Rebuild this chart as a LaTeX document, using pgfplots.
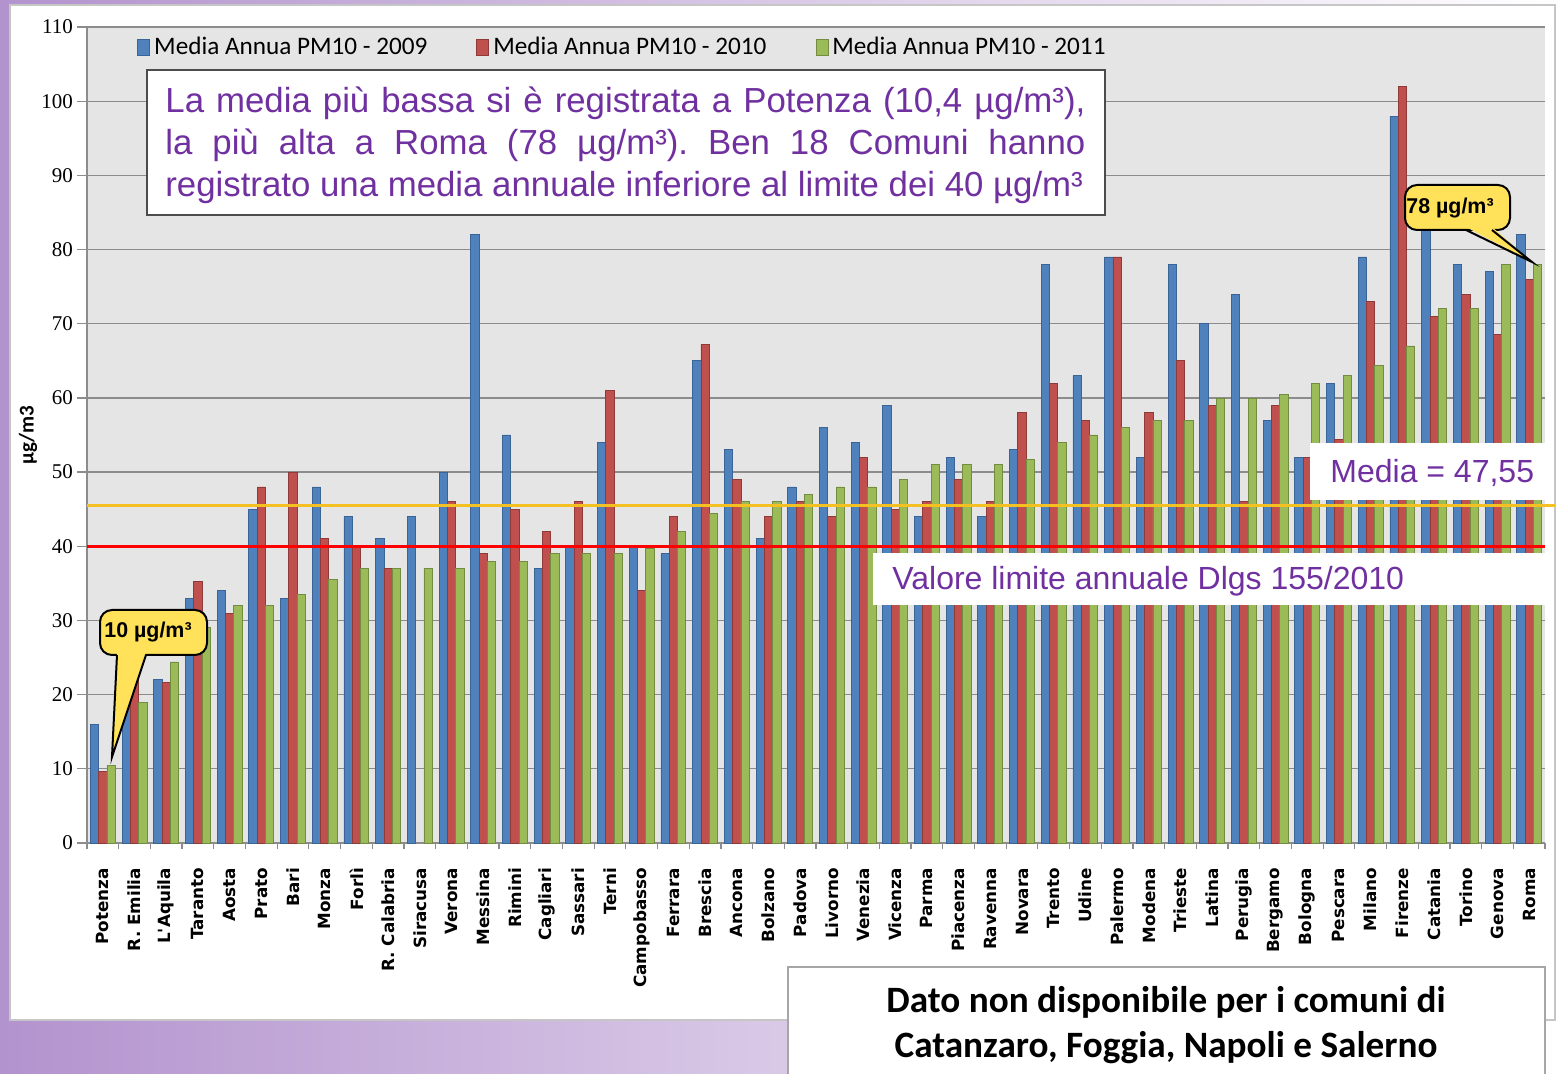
\documentclass[border=0pt]{standalone}
\usepackage{pgfplots}
\pgfplotsset{compat=1.18}
\usepackage{fontspec}
\setmainfont{Liberation Sans}
\newfontfamily\carlito{Carlito}
\newfontfamily\dvs{DejaVu Sans}
\newfontfamily\lserif{Liberation Serif}
\definecolor{cblue}{HTML}{4F81BD}
\definecolor{cblueD}{HTML}{3A6495}
\definecolor{cred}{HTML}{C0504D}
\definecolor{credD}{HTML}{8E3A38}
\definecolor{cgreen}{HTML}{9BBB59}
\definecolor{cgreenD}{HTML}{748C42}
\definecolor{purp}{HTML}{7030A0}
\definecolor{bgpurp}{HTML}{B393CE}
\definecolor{callout}{HTML}{FFE15A}
\definecolor{meanline}{HTML}{F5C022}
\pgfplotsset{mybar/.style={ybar, bar width=4.15pt, line width=0.4pt,
  legend image code/.code={\draw[##1] (0pt,-4pt) rectangle (6pt,4pt);}}}
\frenchspacing
\begin{document}
\begin{tikzpicture}
\path[use as bounding box] (0pt,0pt) rectangle (779.5pt,-537pt);
\begin{scope}[x=0.5pt,y=-0.5pt]
\shade[left color=bgpurp, right color=white] (0,0) rectangle (1559,1074);
\draw[gray!45, fill=white, line width=0.8pt] (10,5) rectangle (1555,1020);
\end{scope}
\begin{axis}[
  at={(43.5pt,-421.5pt)}, anchor=south west,
  scale only axis, width=729pt, height=408pt,
  xmin=-0.5, xmax=45.5, ymin=0, ymax=110,
  clip=false,
  axis background/.style={fill=gray!20},
  axis x line*=bottom, axis y line*=left,
  axis line style={-, draw=gray!90, line width=0.7pt},
  ymajorgrids, major grid style={draw=gray!90, line width=0.6pt},
  ytick={0,10,...,110},
  xtick={0,...,45},
  xticklabels={Potenza,R. Emilia,L'Aquila,Taranto,Aosta,Prato,Bari,Monza,Forlì,R. Calabria,Siracusa,Verona,Messina,Rimini,Cagliari,Sassari,Terni,Campobasso,Ferrara,Brescia,Ancona,Bolzano,Padova,Livorno,Venezia,Vicenza,Parma,Piacenza,Ravenna,Novara,Trento,Udine,Palermo,Modena,Trieste,Latina,Perugia,Bergamo,Bologna,Pescara,Milano,Firenze,Catania,Torino,Genova,Roma},
  minor xtick={-0.5,0.5,...,45.5},
  major x tick style={draw=none},
  minor x tick style={draw=gray!90, line width=0.6pt},
  major y tick style={draw=gray!90, line width=0.6pt},
  tick align=outside, major tick length=5pt, minor tick length=3pt,
  xticklabel style={rotate=90, anchor=east, font=\dvs\bfseries\fontsize{8.4}{10}\selectfont},
  xticklabel shift=4pt,
  yticklabel style={font=\lserif\fontsize{10.5}{12}\selectfont, xshift=1.5pt},
  /pgf/number format/assume math mode=true,
  ylabel={µg/m3},
  ylabel style={at={(axis description cs:-0.0405,0.5)}, anchor=center, font=\carlito\bfseries\fontsize{10.5}{12}\selectfont},
  legend columns=3,
  legend style={draw=none, fill=none, inner sep=0pt, at={(axis description cs:0.0343,0.9755)}, anchor=west,
    font=\carlito\fontsize{12.6}{14}\selectfont,
    /tikz/every even column/.append style={column sep=22.5pt}},
]
\addplot[mybar, bar shift=-4.15pt, fill=cblue, draw=cblueD] coordinates {
(0,16) (1,25) (2,22) (3,33) (4,34) (5,45) (6,33) (7,48) (8,44) (9,41)
(10,44) (11,50) (12,82) (13,55) (14,37) (15,40) (16,54) (17,40) (18,39) (19,65)
(20,53) (21,41) (22,48) (23,56) (24,54) (25,59) (26,44) (27,52) (28,44) (29,53)
(30,78) (31,63) (32,79) (33,52) (34,78) (35,70) (36,74) (37,57) (38,52) (39,62)
(40,79) (41,98) (42,85) (43,78) (44,77) (45,82)};
\addlegendentry{Media Annua PM10 - 2009}
\addplot[mybar, bar shift=0pt, fill=cred, draw=credD] coordinates {
(0,9.6) (1,22) (2,21.6) (3,35.3) (4,31) (5,48) (6,50) (7,41) (8,40) (9,37)
(11,46) (12,39) (13,45) (14,42) (15,46) (16,61) (17,34) (18,44) (19,67.2)
(20,49) (21,44) (22,46) (23,44) (24,52) (25,45) (26,46) (27,49) (28,46) (29,58)
(30,62) (31,57) (32,79) (33,58) (34,65) (35,59) (36,46) (37,59) (38,52) (39,54.4)
(40,73) (41,102) (42,71) (43,74) (44,68.5) (45,76)};
\addlegendentry{Media Annua PM10 - 2010}
\addplot[mybar, bar shift=4.15pt, fill=cgreen, draw=cgreenD] coordinates {
(0,10.4) (1,19) (2,24.4) (3,29) (4,32) (5,32) (6,33.5) (7,35.5) (8,37) (9,37)
(10,37) (11,37) (12,38) (13,38) (14,39) (15,39) (16,39) (17,39.7) (18,42) (19,44.4)
(20,46) (21,46) (22,47) (23,48) (24,48) (25,49) (26,51) (27,51) (28,51) (29,51.7)
(30,54) (31,55) (32,56) (33,57) (34,57) (35,60) (36,60) (37,60.5) (38,62) (39,63)
(40,64.4) (41,67) (42,72) (43,72) (44,78) (45,78)};
\addlegendentry{Media Annua PM10 - 2011}
\addplot[forget plot, color=red, line width=1.6pt] coordinates {(-0.5,40) (45.5,40)};
\addplot[forget plot, color=meanline, line width=1.8pt] coordinates {(-0.5,45.5) (45.8,45.5)};
\end{axis}
\begin{scope}[x=0.5pt,y=-0.5pt]
% main text box
\draw[gray!60!black, line width=1pt, fill=white] (147,70) rectangle (1105,215);
\begin{scope}[every node/.style={anchor=base west, inner sep=0pt, text=purp, font=\fontsize{17.4}{21}\selectfont}]
\node at (165,113) {\makebox[460pt][s]{La media più bassa si è registrata a Potenza (10,4 µg/m³),}};
\node at (165,155) {\makebox[460pt][s]{la più alta a Roma (78 µg/m³). Ben 18 Comuni hanno}};
\node at (165,197) {registrato una media annuale inferiore al limite dei 40 µg/m³};
\end{scope}
% media box
\fill[white] (1310,443) rectangle (1545,500);
\node[anchor=base west, inner sep=0pt, text=purp, font=\fontsize{16}{19}\selectfont] at (1330,483) {Media = 47,55};
% limite box
\fill[white] (873,553) rectangle (1545,605);
\node[anchor=base west, inner sep=0pt, text=purp, font=\fontsize{16}{19}\selectfont] at (892,590) {Valore limite annuale Dlgs 155/2010};
% callout 10
\draw[black, line width=1pt, fill=callout, rounded corners=6pt] (100,610) rectangle (207,655);
\fill[callout] (117,652) -- (112,757) -- (146,652) -- cycle;
\draw[black, line width=1pt] (117,655) -- (112,757) -- (146,655);
\node[anchor=west, inner sep=0pt, font=\bfseries\fontsize{10.7}{12}\selectfont] at (104,632) {10 µg/m³};
% callout 78
\draw[black, line width=1pt, fill=callout, rounded corners=6pt] (1405,185) rectangle (1510,230);
\fill[callout] (1466,227) -- (1532,262) -- (1492,227) -- cycle;
\draw[black, line width=1pt] (1466,230) -- (1532,262) -- (1492,230);
\node[anchor=west, inner sep=0pt, font=\bfseries\fontsize{10.7}{12}\selectfont] at (1406,208) {78 µg/m³};
% bottom box
\draw[gray!70, line width=1pt, fill=white] (788,967) rectangle (1545,1090);
\node[anchor=base, inner sep=0pt, font=\carlito\bfseries\fontsize{18.6}{22}\selectfont] at (1166,1012) {Dato non disponibile per i comuni di};
\node[anchor=base, inner sep=0pt, font=\carlito\bfseries\fontsize{18.6}{22}\selectfont] at (1166,1057) {Catanzaro, Foggia, Napoli e Salerno};
\end{scope}
\end{tikzpicture}
\end{document}
